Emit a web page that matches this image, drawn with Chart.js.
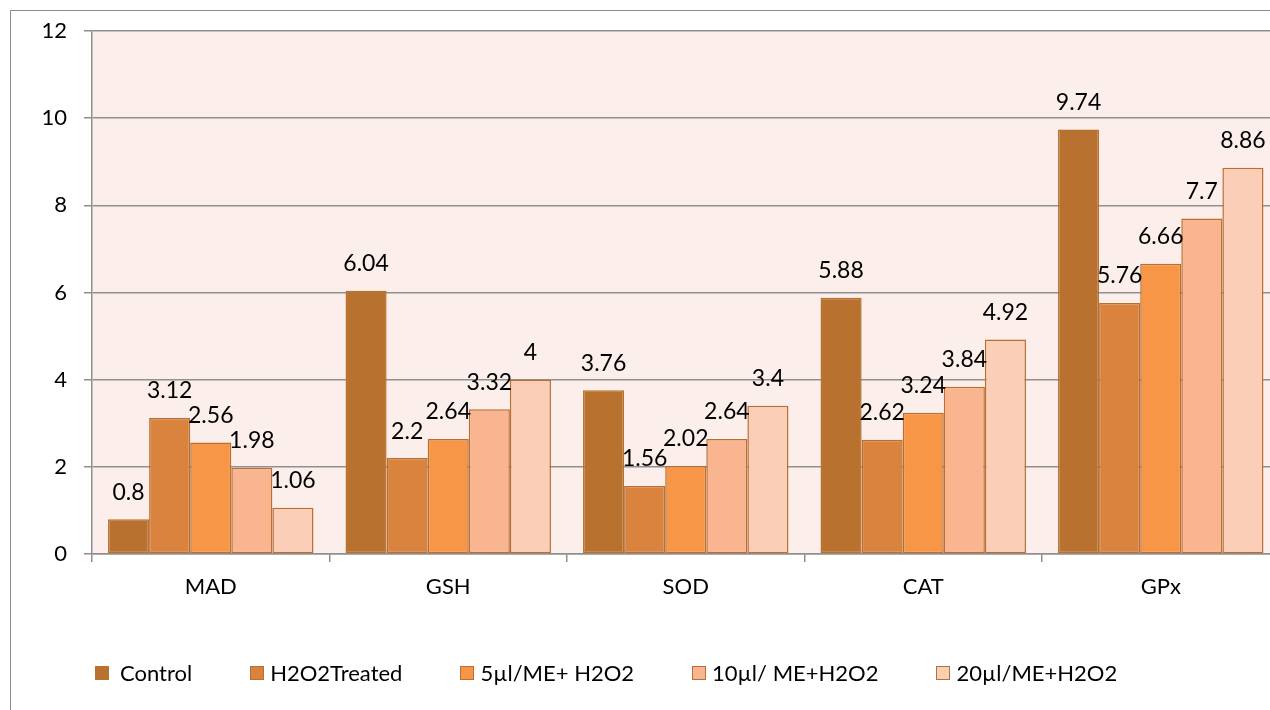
<!DOCTYPE html>
<html>
<head>
<meta charset="utf-8">
<script src="https://cdn.jsdelivr.net/npm/chart.js@4.4.0/dist/chart.umd.min.js"></script>
<style>
    html, body {
        margin: 0;
        padding: 0;
        background: #ffffff;
        overflow: hidden;
        width: 1270px;
        height: 710px;
    }
    #frame {
        position: absolute;
        left: 10px;
        top: 10px;
        width: 1400px;
        height: 900px;
        border-left: 1.5px solid #8c8c8c;
        border-top: 1.5px solid #8c8c8c;
    }
    #chartCanvas {
        position: absolute;
        left: 0;
        top: 0;
    }
    #legend {
        position: absolute;
        left: 95px;
        top: 659px;
        display: flex;
        align-items: center;
        font-family: Lato, "Open Sans", sans-serif;
        font-size: 22px;
        color: #000;
        white-space: nowrap;
    }
    .legend-item {
        display: flex;
        align-items: center;
        margin-right: 58px;
    }
    .legend-box {
        width: 14px;
        height: 14px;
        box-sizing: border-box;
        margin-right: 6px;
    }
</style>
</head>
<body>
<div id="frame"></div>
<canvas id="chartCanvas" width="1300" height="710"></canvas>
<div id="legend"></div>

<script>
const categories = ["MAD", "GSH", "SOD", "CAT", "GPx"];

const seriesNames = ["Control", "H2O2Treated", "5µl/ME+ H2O2", "10µl/ ME+H2O2", "20µl/ME+H2O2"];

const controlValues = [0.8, 6.04, 3.76, 5.88, 9.74];
const treatedValues = [3.12, 2.2, 1.56, 2.62, 5.76];
const me5Values = [2.56, 2.64, 2.02, 3.24, 6.66];
const me10Values = [1.98, 3.32, 2.64, 3.84, 7.7];
const me20Values = [1.06, 4, 3.4, 4.92, 8.86];

const seriesColors = ["#B8712F", "#DA833F", "#F79646", "#F8B58F", "#FBCEB8"];
const seriesBorders = ["#B8712F", "#B96E32", "#B96E32", "#B96E32", "#B96E32"];

const FONT_FAMILY = "Lato, 'Open Sans', sans-serif";
const GRID_COLOR = "#8f8f8f";

document.addEventListener("DOMContentLoaded", () => {
    renderChart();
    renderLegend();
});

// fills the plot area with the pale pink background
const plotBackground = {
    id: "plotBackground",
    beforeDraw(chart) {
        const { ctx, chartArea } = chart;
        ctx.save();
        ctx.fillStyle = "#FCEEEA";
        ctx.fillRect(chartArea.left, chartArea.top, chartArea.right - chartArea.left, chartArea.bottom - chartArea.top);
        ctx.restore();
    },
};

// value labels above every bar
const barValueLabels = {
    id: "barValueLabels",
    afterDatasetsDraw(chart) {
        const { ctx } = chart;
        ctx.save();
        ctx.font = `23px ${FONT_FAMILY}`;
        ctx.fillStyle = "#000000";
        ctx.textAlign = "center";
        ctx.textBaseline = "middle";
        chart.data.datasets.forEach((dataset, i) => {
            const meta = chart.getDatasetMeta(i);
            meta.data.forEach((bar, j) => {
                ctx.fillText(String(dataset.data[j]), bar.x, bar.y - 27);
            });
        });
        ctx.restore();
    },
};

function renderChart() {
    const chartCanvas = document.getElementById("chartCanvas");
    const allValues = [controlValues, treatedValues, me5Values, me10Values, me20Values];

    new Chart(chartCanvas, {
        type: "bar",
        data: {
            labels: categories,
            datasets: allValues.map((values, i) => ({
                label: seriesNames[i],
                data: values,
                backgroundColor: seriesColors[i],
                borderColor: seriesBorders[i],
                borderWidth: 1.5,
                borderSkipped: false,
                categoryPercentage: 0.865,
                barPercentage: 1.0,
            })),
        },
        options: {
            responsive: false,
            animation: false,
            layout: {
                padding: { top: 31, right: 20.5, bottom: 0, left: 0 },
            },
            plugins: {
                legend: { display: false },
                tooltip: { enabled: false },
            },
            scales: {
                x: {
                    offset: true,
                    grid: {
                        offset: true,
                        drawOnChartArea: false,
                        drawTicks: true,
                        tickLength: 8,
                        color: GRID_COLOR,
                        lineWidth: 1.5,
                    },
                    border: { display: true, color: GRID_COLOR, width: 1.5 },
                    ticks: {
                        color: "#000000",
                        padding: 12,
                        font: { family: FONT_FAMILY, size: 22 },
                    },
                    afterFit(scale) {
                        scale.height = 156;
                    },
                },
                y: {
                    min: 0,
                    max: 12,
                    ticks: {
                        stepSize: 2,
                        color: "#000000",
                        padding: 17,
                        font: { family: FONT_FAMILY, size: 22 },
                    },
                    grid: {
                        color: GRID_COLOR,
                        lineWidth: 1.5,
                        tickLength: 8,
                    },
                    border: { display: true, color: GRID_COLOR, width: 1.5 },
                    afterFit(scale) {
                        scale.width = 92;
                    },
                },
            },
        },
        plugins: [plotBackground, barValueLabels],
    });
}

function renderLegend() {
    const legend = document.getElementById("legend");
    seriesNames.forEach((name, i) => {
        const item = document.createElement("div");
        item.className = "legend-item";
        const box = document.createElement("span");
        box.className = "legend-box";
        box.style.background = seriesColors[i];
        box.style.border = `1.5px solid ${seriesBorders[i]}`;
        if (i === 0) {
            box.style.marginRight = "11px";
        }
        const text = document.createElement("span");
        text.textContent = name;
        item.appendChild(box);
        item.appendChild(text);
        legend.appendChild(item);
    });
}
</script>
</body>
</html>
